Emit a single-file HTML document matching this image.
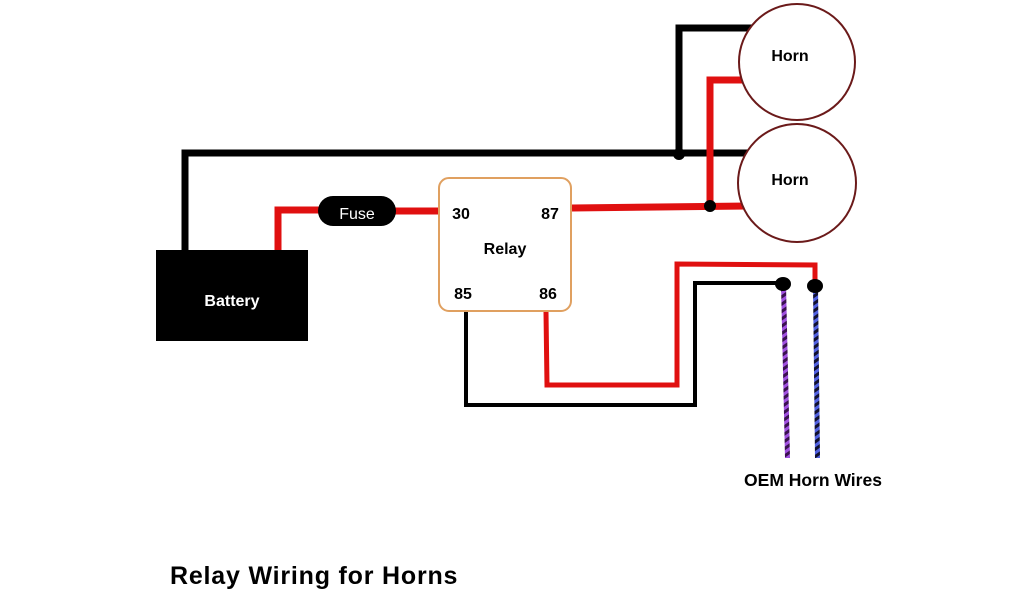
<!DOCTYPE html>
<html><head><meta charset="utf-8"><style>
html,body{margin:0;padding:0;background:#fff;width:1024px;height:600px;overflow:hidden}
svg{display:block}
text{font-family:"Liberation Sans",sans-serif;font-weight:bold}
</style></head><body>
<svg width="1024" height="600" viewBox="0 0 1024 600">
<defs>
<pattern id="pp" width="6" height="6" patternUnits="userSpaceOnUse" patternTransform="rotate(-35)">
<rect width="6" height="6" fill="#a050e0"/><rect width="6" height="3" fill="#3a1050"/></pattern>
<pattern id="bp" width="6" height="6" patternUnits="userSpaceOnUse" patternTransform="rotate(-35)">
<rect width="6" height="6" fill="#5060e0"/><rect width="6" height="3" fill="#101030"/></pattern>
</defs>
<g fill="none" stroke-linejoin="miter">
<polyline points="185,250 185,153 752,153" stroke="#000" stroke-width="7"/>
<polyline points="679,153 679,28 752,28" stroke="#000" stroke-width="7"/>
<polyline points="572,208 748,206" stroke="#e01010" stroke-width="7"/>
<polyline points="710,207 710,80 748,80" stroke="#e01010" stroke-width="7"/>
<polyline points="278,250 278,210 325,210" stroke="#e01010" stroke-width="7"/>
<line x1="390" y1="211" x2="440" y2="211" stroke="#e01010" stroke-width="7"/>
<polyline points="466,311 466,405 695,405 695,283 783,283" stroke="#000" stroke-width="4"/>
<polyline points="546,312 547,385 677,385 677,264 815,265 815,285" stroke="#e01010" stroke-width="5"/>
</g>
<polygon points="781,285 786,285 790,458 785,458" fill="url(#pp)"/>
<polygon points="813,287 818,287 820,458 815,458" fill="url(#bp)"/>
<circle cx="679" cy="154" r="6" fill="#000"/>
<circle cx="710" cy="206" r="6" fill="#000"/>
<ellipse cx="783" cy="284" rx="8" ry="7" fill="#000"/>
<ellipse cx="815" cy="286" rx="8" ry="7" fill="#000"/>
<circle cx="797" cy="62" r="58" fill="#fff" stroke="#6b1a1a" stroke-width="2"/>
<circle cx="797" cy="183" r="59" fill="#fff" stroke="#6b1a1a" stroke-width="2"/>
<text x="790" y="61" font-size="16" text-anchor="middle">Horn</text>
<text x="790" y="185" font-size="16" text-anchor="middle">Horn</text>
<rect x="156" y="250" width="152" height="91" fill="#000"/>
<text x="232" y="306" font-size="16" fill="#fff" text-anchor="middle">Battery</text>
<rect x="318" y="196" width="78" height="30" rx="15" fill="#000"/>
<text x="357" y="219" font-size="16" fill="#fff" text-anchor="middle" style="font-weight:normal">Fuse</text>
<rect x="439" y="178" width="132" height="133" rx="10" fill="#fff" stroke="#e0a060" stroke-width="2"/>
<text x="461" y="219" font-size="16" text-anchor="middle">30</text>
<text x="550" y="219" font-size="16" text-anchor="middle">87</text>
<text x="505" y="254" font-size="16" text-anchor="middle">Relay</text>
<text x="463" y="299" font-size="16" text-anchor="middle">85</text>
<text x="548" y="299" font-size="16" text-anchor="middle">86</text>
<text x="813" y="486" font-size="17.5" text-anchor="middle">OEM Horn Wires</text>
<text x="170" y="584" font-size="25" letter-spacing="0.8">Relay Wiring for Horns</text>
</svg>
</body></html>
